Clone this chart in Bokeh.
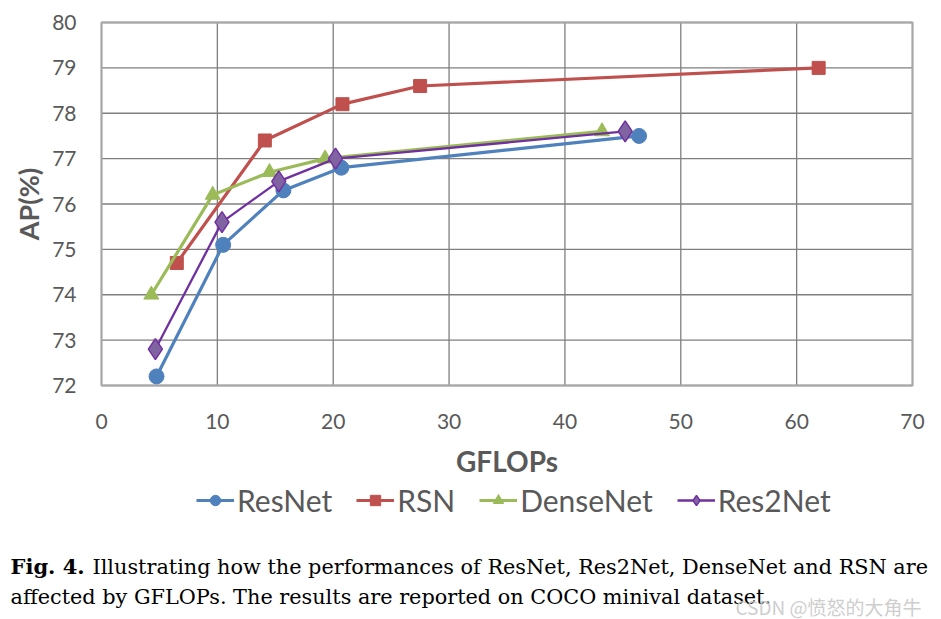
from bokeh.plotting import figure
from bokeh.models import Legend, LegendItem, Label, FixedTicker, Range1d
from bokeh.embed import file_html
from bokeh.resources import INLINE

# ---- data ----
resnet_x = [4.75, 10.5, 15.7, 20.7, 46.4]
resnet_y = [72.2, 75.1, 76.3, 76.8, 77.5]
rsn_x = [6.5, 14.1, 20.8, 27.5, 61.9]
rsn_y = [74.7, 77.4, 78.2, 78.6, 79.0]
dense_x = [4.3, 9.6, 14.5, 19.3, 43.2]
dense_y = [74.0, 76.2, 76.7, 77.0, 77.6]
res2_x = [4.65, 10.4, 15.3, 20.2, 45.2]
res2_y = [72.8, 75.6, 76.5, 77.0, 77.6]
x_ticks = [0, 10, 20, 30, 40, 50, 60, 70]
y_ticks = [72, 73, 74, 75, 76, 77, 78, 79, 80]
series_names = ["ResNet", "RSN", "DenseNet", "Res2Net"]
caption_bold = "Fig. 4."
caption_line1 = "Illustrating how the performances of ResNet, Res2Net, DenseNet and RSN are"
caption_line2 = "affected by GFLOPs. The results are reported on COCO minival dataset."
watermark = "CSDN @愤怒的大角牛"

FONT = "Lato"
TXT = "#595959"

W, H = 941, 619
# plot box in canvas pixels: left 101, right 912, top 22, bottom 385
PL, PR, PT, PB = 101, 912, 22, 385
xmin, xmax = x_ticks[0], x_ticks[-1]
ymin, ymax = y_ticks[0], y_ticks[-1]
xs = (xmax - xmin) / (PR - PL)
ys = (ymax - ymin) / (PB - PT)
x_range = Range1d(xmin - PL * xs, xmax + (W - PR) * xs)
y_range = Range1d(ymin - (H - PB) * ys, ymax + PT * ys)

p = figure(width=W, height=H, output_backend="svg", toolbar_location=None,
           x_range=x_range, y_range=y_range, title=None, min_border=0)
p.background_fill_color = "white"
p.border_fill_color = "white"
p.outline_line_color = None
p.grid.visible = False

for ax in (p.xaxis[0], p.yaxis[0]):
    ax.axis_line_color = None
    ax.major_tick_out = 0
    ax.major_tick_in = 0
    ax.minor_tick_line_color = None
    ax.major_label_text_font = FONT
    ax.major_label_text_font_size = "21px"
    ax.major_label_text_color = TXT
    ax.axis_label_text_font = FONT
    ax.axis_label_text_font_style = "bold"
    ax.axis_label_text_color = TXT

p.xaxis.ticker = FixedTicker(ticks=x_ticks)
p.yaxis.ticker = FixedTicker(ticks=y_ticks)
p.xaxis.fixed_location = ymin
p.yaxis.fixed_location = xmin
p.xaxis.bounds = (xmin, xmax)
p.yaxis.bounds = (ymin, ymax)
p.xaxis.axis_label = "GFLOPs"
p.yaxis.axis_label = "AP(%)"
p.xaxis.axis_label_text_font_size = "28px"
p.yaxis.axis_label_text_font_size = "27px"
p.xaxis.major_label_standoff = 28
p.xaxis.axis_label_standoff = 12
p.yaxis.major_label_standoff = 25
p.yaxis.axis_label_standoff = 4

# grid lines and plot box (from the tick lists)
p.segment(x0=x_ticks, y0=[ymin] * len(x_ticks), x1=x_ticks, y1=[ymax] * len(x_ticks),
          line_color="#7F7F7F", line_width=1.3)
p.segment(x0=[xmin] * len(y_ticks), y0=y_ticks, x1=[xmax] * len(y_ticks), y1=y_ticks,
          line_color="#7F7F7F", line_width=1.3)
p.quad(left=[xmin], right=[xmax], bottom=[ymin], top=[ymax], fill_color=None,
       line_color="#A6A6A6", line_width=2)

c_res, c_rsn, c_den, c_r2l, c_r2f = "#4F81BD", "#C0504D", "#9BBB59", "#7030A0", "#8064A2"

l1 = p.line(resnet_x, resnet_y, line_color=c_res, line_width=3.2)
m1 = p.scatter(resnet_x, resnet_y, marker="circle", size=15, fill_color=c_res, line_color=c_res)
l2 = p.line(rsn_x, rsn_y, line_color=c_rsn, line_width=3.2)
m2 = p.scatter(rsn_x, rsn_y, marker="square", size=13, fill_color=c_rsn, line_color=c_rsn)
l3 = p.line(dense_x, dense_y, line_color=c_den, line_width=3.2)
m3 = p.scatter(dense_x, dense_y, marker="triangle", size=15, fill_color=c_den, line_color=c_den)
l4 = p.line(res2_x, res2_y, line_color=c_r2l, line_width=2.3)
m4 = p.scatter(res2_x, res2_y, marker="diamond", size=21, fill_color=c_r2f, line_color=c_r2l, line_width=1.5)

legend = Legend(items=[
    LegendItem(label=series_names[0], renderers=[l1, m1]),
    LegendItem(label=series_names[1], renderers=[l2, m2]),
    LegendItem(label=series_names[2], renderers=[l3, m3]),
    LegendItem(label=series_names[3], renderers=[l4, m4]),
], orientation="horizontal", location=(196, 101))
legend.label_text_font = FONT
legend.label_text_font_size = "30px"
legend.label_text_color = TXT
legend.glyph_width = 38
legend.glyph_height = 26
legend.label_standoff = 3
legend.spacing = 24
legend.padding = 6
legend.margin = 0
legend.border_line_color = None
legend.background_fill_alpha = 0
p.add_layout(legend, "center")

SERIF = "DejaVu Serif"
p.add_layout(Label(x=10, y=53, x_units="screen", y_units="screen", text=caption_bold,
                   text_font=SERIF, text_font_style="bold", text_font_size="21px",
                   text_color="black", text_baseline="alphabetic"))
p.add_layout(Label(x=92, y=53, x_units="screen", y_units="screen", text=caption_line1,
                   text_font=SERIF, text_font_size="20.8px", text_color="black",
                   text_baseline="alphabetic"))
p.add_layout(Label(x=10, y=23, x_units="screen", y_units="screen", text=caption_line2,
                   text_font=SERIF, text_font_size="20.8px", text_color="black",
                   text_baseline="alphabetic"))
p.add_layout(Label(x=735, y=13, x_units="screen", y_units="screen", text=watermark,
                   text_font="Noto Sans CJK SC", text_font_size="19px", text_color="#C8C8C8",
                   text_alpha=0.9, text_baseline="alphabetic"))

open("out.html", "w").write(file_html(p, INLINE))
